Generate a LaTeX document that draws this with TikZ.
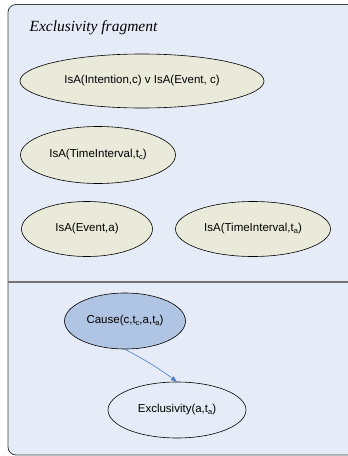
\documentclass[tikz,border=0pt]{standalone}
\usepackage{fontspec}
\setmainfont{Liberation Serif}
\setsansfont{Liberation Sans}
\usepackage{tikz}
\usetikzlibrary{arrows.meta, shapes.geometric}

\definecolor{fragbg}{HTML}{E6ECF7}
\definecolor{factfill}{HTML}{EAEADB}
\definecolor{causefill}{HTML}{B0C4E3}
\definecolor{linkblue}{HTML}{4A7ACB}
\newcommand{\idx}[1]{\raisebox{-0.25ex}{\fontsize{7.5}{8}\selectfont #1}}

\tikzset{
  fact/.style={ellipse, draw=black, semithick, fill=factfill, inner sep=0pt,
    font=\sffamily\fontsize{11.5}{13}\selectfont},
  rule/.style={fact, fill=causefill},
  head/.style={fact, fill=fragbg},
  link/.style={linkblue, semithick, -{Latex[length=6pt,width=5pt]}}
}

\begin{document}
\begin{tikzpicture}[x=1pt,y=-1pt]
\useasboundingbox (0,0) rectangle (348,456);
% fragment box, open to the right
\fill[fragbg,rounded corners=8pt] (360,4.5) -- (8,4.5) -- (8,455) -- (360,455) -- cycle;
\draw[thick,black!75,rounded corners=8pt] (360,4.5) -- (8,4.5) -- (8,455) -- (360,455);
\draw[line width=1.4pt,black!55] (8,282) -- (348,282); %divider

\node[anchor=west,font=\itshape\fontsize{15.5}{17}\selectfont] (title) at (26,28) {Exclusivity fragment};

% conditions
\node[fact,minimum width=244pt,minimum height=54pt] (isaic) at (142,81) {IsA(Intention,c) v IsA(Event, c)};
\node[fact,minimum width=155pt,minimum height=57pt] (isatc) at (98,155) {IsA(TimeInterval,t\idx{c})};
\node[fact,minimum width=131pt,minimum height=55pt] (isaev) at (87,229) {IsA(Event,a)};
\node[fact,minimum width=155pt,minimum height=55pt] (isata) at (253,229) {IsA(TimeInterval,t\idx{a})};

% conclusion
\node[rule,minimum width=121pt,minimum height=56pt] (cause) at (125,321) {Cause(c,t\idx{c},a,t\idx{a})};
\node[head,minimum width=138pt,minimum height=56pt] (excl) at (177,410) {Exclusivity(a,t\idx{a})};

\draw[link] (cause.south) to[bend left=4] (excl.north);
\end{tikzpicture}
\end{document}
